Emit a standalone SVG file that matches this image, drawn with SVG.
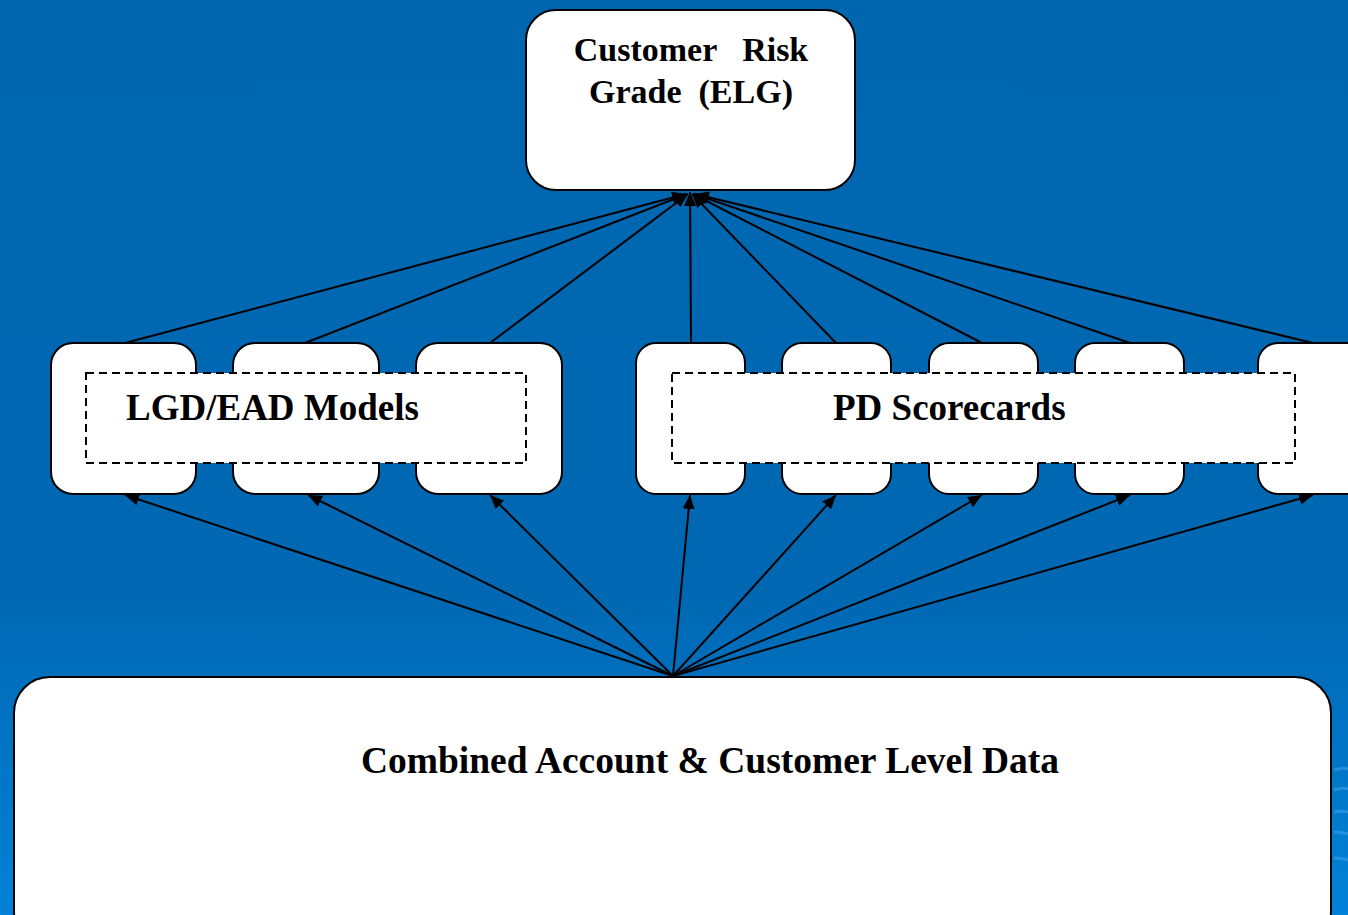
<svg xmlns="http://www.w3.org/2000/svg" width="1348" height="915" viewBox="0 0 1348 915">
<defs>
<linearGradient id="bg" x1="0" y1="0" x2="0" y2="1">
<stop offset="0" stop-color="#0066b0"/>
<stop offset="0.65" stop-color="#0068b3"/>
<stop offset="1" stop-color="#0082d8"/>
</linearGradient>
<marker id="ah" viewBox="0 0 14 12" refX="14" refY="6" markerWidth="14" markerHeight="12" markerUnits="userSpaceOnUse" orient="auto">
<path d="M0,0 L14,6 L0,12 Z" fill="#000"/>
</marker>
<style>
.box{fill:#fff;stroke:#000;stroke-width:2}
.dash{fill:#fff;stroke:#000;stroke-width:2;stroke-dasharray:8,5}
.t{font-family:"Liberation Serif","Times New Roman",serif;font-weight:bold;fill:#000}
.c line{stroke:#000;stroke-width:2}
.sw{fill:none;stroke:#3aa0e8;stroke-width:3;opacity:0.6}
</style>
</defs>
<rect x="0" y="0" width="1348" height="915" fill="url(#bg)"/>
<path class="sw" d="M1334,770 C1340,768 1345,768 1348,769"/>
<path class="sw" d="M1334,790 C1340,788 1345,788 1348,789"/>
<path class="sw" d="M1334,812 C1340,811 1345,811 1348,812"/>
<path class="sw" d="M1334,832 C1340,832 1345,833 1348,834"/>
<path class="sw" d="M1334,858 C1340,858 1345,859 1348,860"/>

<g class="c">
<line x1="125" y1="343" x2="686" y2="194" marker-end="url(#ah)"/>
<line x1="305" y1="343" x2="687" y2="194" marker-end="url(#ah)"/>
<line x1="490" y1="343" x2="688" y2="194" marker-end="url(#ah)"/>
<line x1="691" y1="343" x2="690" y2="192" marker-end="url(#ah)"/>
<line x1="836" y1="343" x2="692" y2="194" marker-end="url(#ah)"/>
<line x1="982" y1="343" x2="693" y2="194" marker-end="url(#ah)"/>
<line x1="1130" y1="343" x2="694" y2="194" marker-end="url(#ah)"/>
<line x1="1313" y1="343" x2="695" y2="194" marker-end="url(#ah)"/>

<line x1="673" y1="676" x2="125" y2="495" marker-end="url(#ah)"/>
<line x1="673" y1="676" x2="308" y2="495" marker-end="url(#ah)"/>
<line x1="673" y1="676" x2="490" y2="495" marker-end="url(#ah)"/>
<line x1="673" y1="676" x2="690" y2="495" marker-end="url(#ah)"/>
<line x1="673" y1="676" x2="836" y2="495" marker-end="url(#ah)"/>
<line x1="673" y1="676" x2="982" y2="495" marker-end="url(#ah)"/>
<line x1="673" y1="676" x2="1130" y2="495" marker-end="url(#ah)"/>
<line x1="673" y1="676" x2="1313" y2="495" marker-end="url(#ah)"/>
</g>

<g id="top">
<rect class="box" x="526" y="10" width="329" height="180" rx="30"/>
<text class="t" x="691" y="61" font-size="34" text-anchor="middle" xml:space="preserve">Customer   Risk</text>
<text class="t" x="691" y="103" font-size="34" text-anchor="middle" xml:space="preserve">Grade  (ELG)</text>
</g>

<g id="lgd1"><rect class="box" x="51" y="343" width="145" height="151" rx="22"/></g>
<g id="lgd2"><rect class="box" x="233" y="343" width="146" height="151" rx="22"/></g>
<g id="lgd3"><rect class="box" x="416" y="343" width="146" height="151" rx="22"/></g>
<g id="lgd-group">
<rect class="dash" x="86" y="373" width="440" height="90"/>
<text class="t" x="126" y="420" font-size="37">LGD/EAD Models</text>
</g>

<g id="pd1"><rect class="box" x="636" y="343" width="109" height="151" rx="20"/></g>
<g id="pd2"><rect class="box" x="782" y="343" width="109" height="151" rx="20"/></g>
<g id="pd3"><rect class="box" x="929" y="343" width="109" height="151" rx="20"/></g>
<g id="pd4"><rect class="box" x="1075" y="343" width="109" height="151" rx="20"/></g>
<g id="pd5"><rect class="box" x="1258" y="343" width="120" height="151" rx="20"/></g>
<g id="pd-group">
<rect class="dash" x="672" y="373" width="623" height="90"/>
<text class="t" x="833" y="420" font-size="37">PD Scorecards</text>
</g>

<g id="data">
<rect class="box" x="14" y="677" width="1317" height="270" rx="36"/>
<text class="t" x="710" y="773" font-size="37.5" text-anchor="middle">Combined Account &amp; Customer Level Data</text>
</g>
</svg>
